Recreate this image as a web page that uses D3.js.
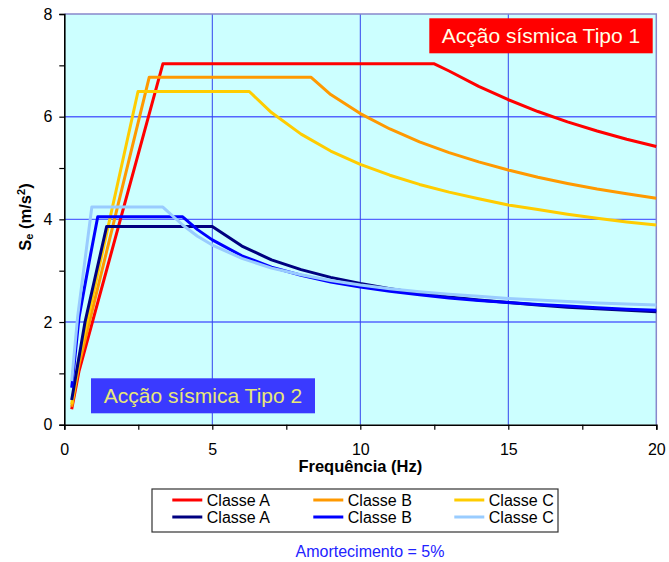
<!DOCTYPE html>
<html>
<head>
<meta charset="utf-8">
<script src="https://cdn.jsdelivr.net/npm/d3@7"></script>
<style>
  body { margin: 0; background: #fff; }
  text { font-family: "Liberation Sans", Arial, sans-serif; }
</style>
</head>
<body>
<div id="chart"></div>
<script>
// spectra: [frequency (Hz), Se (m/s2)]
const tipo1A = [[0.25,0.30],[0.5,1.05],[3.33,7.03],[12.5,7.03],[13,6.89],[14,6.59],[15,6.33],[16,6.10],[17,5.90],[18,5.72],[19,5.56],[20,5.42]];
const tipo1B = [[0.25,0.35],[0.5,1.18],[2.87,6.77],[8.33,6.77],[9,6.43],[10,6.06],[11,5.76],[12,5.51],[13,5.30],[14,5.12],[15,4.96],[16,4.82],[17,4.70],[18,4.59],[19,4.50],[20,4.41]];
const tipo1C = [[0.25,0.40],[0.5,1.30],[2.49,6.49],[6.25,6.49],[7,6.08],[8,5.66],[9,5.33],[10,5.07],[11,4.86],[12,4.68],[13,4.53],[14,4.40],[15,4.28],[16,4.19],[17,4.10],[18,4.02],[19,3.95],[20,3.89]];
const tipo2A = [[0.25,0.48],[0.7,2.0],[1.43,3.86],[5,3.86],[6,3.48],[7,3.21],[8,3.02],[9,2.87],[10,2.75],[11,2.65],[12,2.56],[13,2.49],[14,2.43],[15,2.38],[16,2.33],[17,2.29],[18,2.26],[19,2.23],[20,2.20]];
const tipo2B = [[0.25,0.72],[0.5,2.1],[0.85,3.2],[1.13,4.05],[4,4.05],[4.5,3.80],[5,3.60],[6,3.29],[7,3.07],[8,2.91],[9,2.78],[10,2.68],[11,2.60],[12,2.53],[13,2.47],[14,2.42],[15,2.38],[16,2.34],[17,2.31],[18,2.28],[19,2.25],[20,2.23]];
const tipo2C = [[0.25,0.85],[0.45,2.1],[0.93,4.24],[3.33,4.24],[4,3.89],[4.5,3.67],[5,3.50],[6,3.24],[7,3.05],[8,2.92],[9,2.81],[10,2.72],[11,2.65],[12,2.59],[13,2.54],[14,2.50],[15,2.46],[16,2.43],[17,2.40],[18,2.37],[19,2.35],[20,2.33]];

const seriesNames = ["Classe A", "Classe B", "Classe C", "Classe A", "Classe B", "Classe C"];
const seriesColors = ["#ff0000", "#ff9900", "#ffcc00", "#000080", "#0000ff", "#99ccff"];
const seriesData = [tipo1A, tipo1B, tipo1C, tipo2A, tipo2B, tipo2C];

const xTicks = [0, 2.5, 5, 7.5, 10, 12.5, 15, 17.5, 20];
const yTicks = [0, 1, 2, 3, 4, 5, 6, 7, 8];
const xGrid = [5, 10, 15];
const yGrid = [2, 4, 6];

const margin = { top: 14, right: 12.7, bottom: 137.3, left: 64.3 },
      width = 669 - margin.left - margin.right,
      height = 562 - margin.top - margin.bottom;

const root = d3.select("#chart").append("svg")
    .attr("width", 669)
    .attr("height", 562);

const svg = root.append("g")
    .attr("transform", `translate(${margin.left},${margin.top})`);

const x = d3.scaleLinear().domain([0, 20]).range([0, width]);
const y = d3.scaleLinear().domain([0, 8]).range([height, 0]);

// plot background
svg.append("rect")
   .attr("width", width)
   .attr("height", height)
   .attr("fill", "#ccffff");

// grid lines
svg.selectAll(".hgrid").data(yGrid).enter().append("line")
   .attr("x1", 0).attr("x2", width)
   .attr("y1", d => y(d)).attr("y2", d => y(d))
   .attr("stroke", "#5566ff").attr("stroke-width", 1.4);

svg.selectAll(".vgrid").data(xGrid).enter().append("line")
   .attr("x1", d => x(d)).attr("x2", d => x(d))
   .attr("y1", 0).attr("y2", height)
   .attr("stroke", "#3344ee").attr("stroke-width", 1);

// top and right border
svg.append("path")
   .attr("d", `M0,0H${width}V${height}`)
   .attr("fill", "none")
   .attr("stroke", "#8888cc")
   .attr("stroke-width", 1.5);

// curves
const line = d3.line().x(d => x(d[0])).y(d => y(d[1]));
seriesData.forEach((s, i) => {
    svg.append("path")
       .datum(s)
       .attr("fill", "none")
       .attr("stroke", seriesColors[i])
       .attr("stroke-width", 3)
       .attr("stroke-linejoin", "round")
       .attr("d", line);
});

// axes
const yAxis = svg.append("g")
   .call(d3.axisLeft(y).tickValues(yTicks).tickSize(5).tickPadding(7)
        .tickFormat(d => d % 2 === 0 ? d : ""));
const xAxis = svg.append("g")
   .attr("transform", `translate(0,${height})`)
   .call(d3.axisBottom(x).tickValues(xTicks).tickSize(5).tickPadding(14)
        .tickFormat(d => d % 5 === 0 ? d : ""));
[yAxis, xAxis].forEach(a => {
    a.select(".domain").attr("stroke", "#000").attr("stroke-width", 1.6);
    a.selectAll(".tick line").attr("stroke", "#000").attr("stroke-width", 1.2);
    a.selectAll("text").style("font-size", "16px").attr("fill", "#000")
     .style("font-family", "'Liberation Sans', Arial, sans-serif");
});

// axis titles
root.append("text")
    .attr("x", margin.left + width / 2)
    .attr("y", 472)
    .attr("text-anchor", "middle")
    .style("font-size", "16.5px")
    .style("font-weight", "bold")
    .text("Frequência (Hz)");

const yTitle = root.append("text")
    .attr("transform", "translate(31,217) rotate(-90)")
    .attr("text-anchor", "middle")
    .style("font-size", "16.5px")
    .style("font-weight", "bold");
yTitle.append("tspan").text("S");
yTitle.append("tspan").attr("dy", 2).style("font-size", "11px").text("e");
yTitle.append("tspan").attr("dy", -2).text(" (m/s");
yTitle.append("tspan").attr("dy", -6).style("font-size", "11px").text("2");
yTitle.append("tspan").attr("dy", 6).text(")");

// labels inside the plot
const boxes = [
    { text: "Acção sísmica Tipo 1", fill: "#ff0000", color: "#ffffe6", x: 429.3, y: 18.3, w: 223.4, h: 35 },
    { text: "Acção sísmica Tipo 2", fill: "#3a3aff", color: "#e8e878", x: 91, y: 378.3, w: 224, h: 35 }
];
boxes.forEach(b => {
    root.append("rect")
        .attr("x", b.x).attr("y", b.y)
        .attr("width", b.w).attr("height", b.h)
        .attr("fill", b.fill);
    root.append("text")
        .attr("x", b.x + b.w / 2)
        .attr("y", b.y + b.h / 2 + 7.5)
        .attr("text-anchor", "middle")
        .attr("fill", b.color)
        .style("font-size", "21px")
        .text(b.text);
});

// legend
const legend = root.append("g").attr("transform", "translate(152,489)");
legend.append("rect")
      .attr("width", 406).attr("height", 43)
      .attr("fill", "#fff")
      .attr("stroke", "#333").attr("stroke-width", 1.2);

seriesNames.forEach((name, i) => {
    const col = i % 3, row = Math.floor(i / 3);
    const lx = 20.3 + col * 141, ly = 11 + row * 17;
    legend.append("line")
          .attr("x1", lx).attr("x2", lx + 30)
          .attr("y1", ly).attr("y2", ly)
          .attr("stroke", seriesColors[i])
          .attr("stroke-width", 3);
    legend.append("text")
          .attr("x", lx + 34.5)
          .attr("y", ly + 5.5)
          .style("font-size", "16px")
          .text(name);
});

root.append("text")
    .attr("x", 370)
    .attr("y", 556.5)
    .attr("text-anchor", "middle")
    .attr("fill", "#2222ff")
    .style("font-size", "16px")
    .text("Amortecimento = 5%");
</script>
</body>
</html>
